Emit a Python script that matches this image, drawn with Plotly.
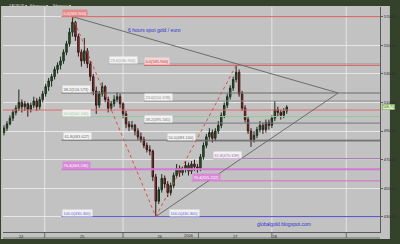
import plotly.graph_objects as go

# ---------------- data ----------------
candle_idx = list(range(96))
opens = [489, 492, 495, 499, 503, 506, 510, 507, 509, 505, 508, 511, 507, 512, 516, 521,
         525, 528, 533, 536, 539, 545, 551, 559, 566, 556, 545, 539, 546, 537, 528, 518,
         508, 516, 521, 512, 506, 509, 512, 514, 509, 502, 495, 493, 494, 490, 486, 484,
         480, 477, 476, 458, 441, 449, 457, 453, 447, 452, 459, 464, 461, 463, 466, 462,
         467, 465, 464, 472, 480, 486, 489, 485, 490, 494, 501, 508, 514, 520, 526, 531,
         516, 506, 498, 490, 484, 487, 491, 494, 491, 496, 494, 499, 505, 503, 501, 504]
highs = [494, 497, 501, 505, 508, 519, 512, 511, 510, 510, 514, 513, 514, 518, 523, 527,
         530, 535, 538, 542, 547, 553, 562, 569.9, 567, 558, 547, 555, 548, 539, 530, 521,
         518, 524, 522, 514, 511, 515, 517, 516, 510, 504, 497, 497, 495, 492, 489, 486,
         482, 480, 477, 460, 451, 460, 459, 455, 454, 461, 467, 466, 465, 469, 468, 469,
         470, 467, 474, 482, 488, 492, 491, 492, 497, 503, 510, 516, 522, 528, 535.9, 533,
         518, 508, 500, 492, 490, 493, 497, 496, 498, 498, 501, 511, 507, 505, 506, 508]
lows = [487, 490, 494, 497, 501, 504, 503, 504, 500, 503, 506, 504, 505, 510, 514, 518,
        521, 526, 530, 533, 537, 543, 549, 556, 553, 542, 535, 537, 534, 525, 515, 502,
        506, 514, 510, 503, 504, 507, 510, 506, 499, 492, 490, 491, 487, 484, 482, 478,
        475, 473, 455, 430.3, 439, 447, 450, 444, 445, 450, 457, 458, 459, 461, 459, 460,
        462, 461, 462, 470, 478, 484, 482, 483, 488, 492, 499, 506, 512, 518, 524, 514,
        504, 496, 488, 479, 482, 485, 489, 488, 489, 491, 492, 497, 500, 498, 499, 502]
closes = [492, 495, 499, 503, 506, 510, 507, 509, 505, 508, 511, 507, 512, 516, 521, 525,
          528, 533, 536, 539, 545, 551, 559, 566, 556, 545, 539, 546, 537, 528, 518, 508,
          516, 521, 512, 506, 509, 512, 514, 509, 502, 495, 493, 494, 490, 486, 484, 480,
          477, 476, 458, 441, 449, 457, 453, 447, 452, 459, 464, 461, 463, 466, 462, 467,
          465, 464, 472, 480, 486, 489, 485, 490, 494, 501, 508, 514, 520, 526, 531, 516,
          506, 498, 490, 484, 487, 491, 494, 491, 496, 494, 499, 505, 503, 501, 504, 506.71]

fib_ratios = [0.0, 23.6, 38.2, 50.0, 61.8, 76.4, 100.0]
user_hline = 504.7                 # red horizontal line across the chart
wedge_apex = (112.3, 516.6)        # index, price where the two trend lines meet

y_ticks = [430, 450, 470, 490, 510, 530, 550, 570]
x_tick_idx = [5.7, 26.3, 52.3, 77.7, 91.0]
x_tick_text = ["24", "25", "26", "27", "28"]
toolbar_items = ["XAUEUR ▾", "Fibonacci ▾", "Fibonacci ▾"]

# ---------------- styles / positions ----------------
W, H = 400, 244
ML, MR, MT, MB = 3, 17, 7, 12
X_RANGE = [-1 / 3, 379 / 3]
Y_RANGE = [419.51, 576.63]


def px_to_idx(px):
    return (px - 4) / 3.0


def pxx(px):
    return (px - ML) / (W - ML - MR)


def pxy(py):
    return 1 - (py - MT) / (H - MT - MB)


left_colors = ["#e05858", "#a0a0a0", "#6a6a6a", "#98c898", "#6a6a6a", "#d47ad4", "#5c5cd8"]
right_colors = ["#e05858", "#8e8e8e", "#787878", "#6a6a6a", "#9a6aa8", "#d470c8", "#5c5cd8"]
left_line_start = [62, 110, 62, 62, 62, 62, 62]
right_line_start = [145, 145, 145, 168, 215, 193, 170]
left_label_px = [62, 110, 62, 62, 63, 62, 62]
right_label_px = [145, 145, 145, 168, 215, 193, 170]

fig = go.Figure()

hi_i = max(range(len(highs)), key=lambda i: highs[i])
lo_i = min(range(len(lows)), key=lambda i: lows[i])
hi2_i = lo_i + max(range(len(highs) - lo_i), key=lambda k: highs[lo_i + k])
hi, lo, hi2 = highs[hi_i], lows[lo_i], highs[hi2_i]

left_levels = [hi - r / 100 * (hi - lo) for r in fib_ratios]
right_levels = [hi2 - r / 100 * (hi2 - lo) for r in fib_ratios]

# user horizontal line
fig.add_trace(go.Scatter(x=X_RANGE, y=[user_hline, user_hline], mode="lines",
                         line=dict(color="#e06a6a", width=1), hoverinfo="skip", showlegend=False))

for lev, col, st in zip(left_levels, left_colors, left_line_start):
    w = 2 if col == "#d47ad4" else 1
    fig.add_trace(go.Scatter(x=[px_to_idx(st), X_RANGE[1]], y=[lev, lev], mode="lines",
                             line=dict(color=col, width=w), hoverinfo="skip", showlegend=False))
for lev, col, st in zip(right_levels, right_colors, right_line_start):
    fig.add_trace(go.Scatter(x=[px_to_idx(st), X_RANGE[1]], y=[lev, lev], mode="lines",
                             line=dict(color=col, width=1), hoverinfo="skip", showlegend=False))

# wedge trend lines
fig.add_trace(go.Scatter(x=[hi_i, wedge_apex[0]], y=[hi, wedge_apex[1]], mode="lines",
                         line=dict(color="#6c6c6c", width=1), hoverinfo="skip", showlegend=False))
fig.add_trace(go.Scatter(x=[lo_i, wedge_apex[0]], y=[lo, wedge_apex[1]], mode="lines",
                         line=dict(color="#6c6c6c", width=1), hoverinfo="skip", showlegend=False))
# fib diagonals
fig.add_trace(go.Scatter(x=[hi_i, lo_i], y=[hi, lo], mode="lines",
                         line=dict(color="#d85050", width=1, dash="dot"), hoverinfo="skip", showlegend=False))
fig.add_trace(go.Scatter(x=[lo_i, hi2_i], y=[lo, hi2], mode="lines",
                         line=dict(color="#d85050", width=1, dash="dot"), hoverinfo="skip", showlegend=False))

fig.add_trace(go.Candlestick(
    x=candle_idx, open=opens, high=highs, low=lows, close=closes,
    increasing=dict(line=dict(color="#1c2e1c", width=1), fillcolor="#2f5e2f"),
    decreasing=dict(line=dict(color="#3a1616", width=1), fillcolor="#b03434"),
    whiskerwidth=0, showlegend=False, hoverinfo="skip"))

shapes = []
# grey panel
shapes.append(dict(type="rect", xref="paper", yref="paper", x0=pxx(1), x1=pxx(393),
                   y0=pxy(239), y1=pxy(6), fillcolor="#c2c2c2", line=dict(width=0), layer="below"))
# bottom axis strip bottom line
shapes.append(dict(type="line", xref="paper", yref="paper", x0=0, x1=1, y0=pxy(238), y1=pxy(238),
                   line=dict(color="#6a6a6a", width=1), layer="below"))
# vertical grid lines + separators
for gx in [45, 124, 274, 349]:
    shapes.append(dict(type="line", xref="x", yref="paper", x0=px_to_idx(gx), x1=px_to_idx(gx),
                       y0=0, y1=1, line=dict(color="#e4e4e4", width=1), layer="below"))
for gx in [45, 124, 200, 274, 349]:
    shapes.append(dict(type="line", xref="paper", yref="paper", x0=pxx(gx), x1=pxx(gx),
                       y0=pxy(238), y1=pxy(232), line=dict(color="#6a6a6a", width=1), layer="below"))

annotations = []


def lab(text, xi, y, fg, bg):
    annotations.append(dict(text=text, x=xi, y=y, xref="x", yref="y", xanchor="left",
                            yanchor="bottom", showarrow=False, font=dict(size=4, color=fg,
                            family="Liberation Sans, Arial"), bgcolor=bg, borderpad=0.5))


for r, lev, col, lp in zip(fib_ratios, left_levels, left_colors, left_label_px):
    txt = f"{r:.1f}({lev:.3f})"
    if r == 0.0:
        lab(txt, px_to_idx(lp), lev, "#ffffff", "#e48a8a")
    elif r == 76.4:
        lab(txt, px_to_idx(lp), lev, "#ffffff", "#d88ad8")
    else:
        lab(txt, px_to_idx(lp), lev, col, "#f2f2f2")
for r, lev, col, lp in zip(fib_ratios, right_levels, right_colors, right_label_px):
    txt = f"{r:.1f}({lev:.3f})"
    if r == 0.0:
        lab(txt, px_to_idx(lp), lev, "#d03030", "#f2d6d6")
    elif r == 76.4:
        lab(txt, px_to_idx(lp), lev, "#ffffff", "#d88ad8")
    else:
        lab(txt, px_to_idx(lp), lev, col, "#f2f2f2")

annotations.append(dict(text="6 hours spot gold / euro", x=pxx(156), y=pxy(25), xref="paper", yref="paper",
                        showarrow=False, font=dict(size=5, color="#3434d4", family="Liberation Sans, Arial")))
annotations.append(dict(text="globalgold.blogspot.com", x=pxx(315), y=pxy(229), xref="paper", yref="paper",
                        showarrow=False, font=dict(size=5, color="#3434d4", family="Liberation Sans, Arial")))
annotations.append(dict(text="2006", x=pxx(190), y=pxy(240.5), xref="paper", yref="paper",
                        showarrow=False, font=dict(size=4, color="#2a2a2a", family="Liberation Sans, Arial")))
annotations.append(dict(text=f"{closes[-1]:.2f}", x=pxx(385), y=closes[-1], xref="paper", yref="y",
                        xanchor="left", showarrow=False, bgcolor="#e4f2c8", bordercolor="#58a030",
                        borderwidth=0.5, borderpad=0.5,
                        font=dict(size=3.6, color="#2c5a1c", family="Liberation Sans, Arial")))
# toolbar
for t, x0 in zip(toolbar_items, [8, 29, 52]):
    annotations.append(dict(text=t, x=pxx(x0), y=pxy(3), xref="paper", yref="paper", showarrow=False,
                            xanchor="left", borderpad=0,
                            font=dict(size=3.6, color="#cfd4c8", family="Liberation Sans, Arial")))

fig.update_layout(
    width=W, height=H, margin=dict(l=ML, r=MR, t=MT, b=MB),
    paper_bgcolor="#34422c", plot_bgcolor="rgba(0,0,0,0)",
    shapes=shapes, annotations=annotations, showlegend=False,
    xaxis=dict(range=X_RANGE, rangeslider=dict(visible=False), showgrid=False, zeroline=False,
               tickvals=x_tick_idx, ticktext=x_tick_text, ticks="", showline=True,
               linecolor="#5a5a5a", linewidth=1,
               tickfont=dict(size=4, color="#2a2a2a", family="Liberation Sans, Arial")),
    yaxis=dict(range=Y_RANGE, side="right", tickvals=y_ticks, ticktext=[f"{v:.2f}" for v in y_ticks],
               showgrid=True, gridcolor="#e6e6e6", gridwidth=1, zeroline=False,
               showline=True, linecolor="#5a5a5a", linewidth=1, ticks="outside", ticklen=2,
               tickcolor="#5a5a5a",
               tickfont=dict(size=4, color="#2a2a2a", family="Liberation Sans, Arial")),
)

fig.write_html("out.html")
